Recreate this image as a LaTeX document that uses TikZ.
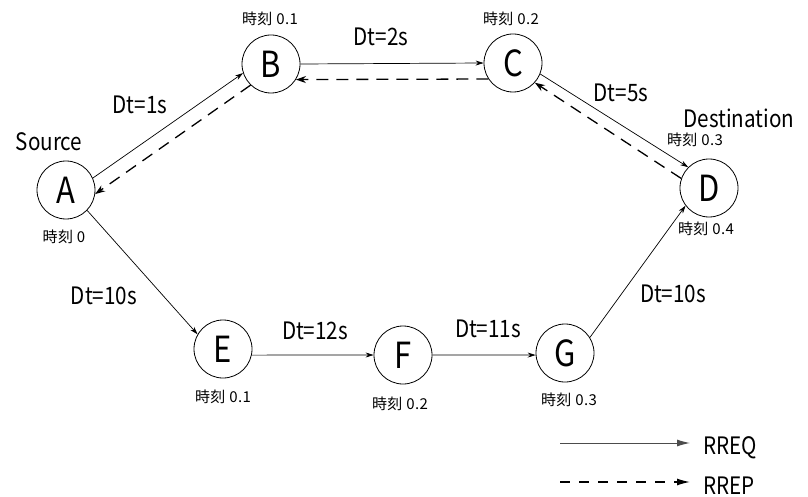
\documentclass[tikz,border=0pt]{standalone}
\usepackage{fontspec}
\setmainfont{Noto Sans CJK JP}[FakeStretch=0.86]
\newfontfamily\tmfont{Noto Sans CJK JP}[LetterSpace=3]
\usetikzlibrary{arrows.meta}
\begin{document}
\begin{tikzpicture}[x=1pt,y=-1pt,
  nd/.style={circle,draw,line width=0.8pt,minimum size=58pt,inner sep=0pt,font=\fontsize{36}{36}\selectfont},
  lbl/.style={font=\fontsize{24}{24}\selectfont,inner sep=0pt},
  tm/.style={font=\tmfont\fontsize{15}{15}\selectfont,inner sep=0pt},
  req/.style={-{Stealth[length=8pt,width=5pt]},line width=0.7pt},
  rep/.style={-{Stealth[length=10pt,width=7pt]},dash pattern=on 12pt off 8pt,line width=1.3pt},
  legreq/.style={-{Latex[length=13pt,width=7pt]},line width=1pt,draw=black!70,fill=black},
  legrep/.style={-{Latex[length=13pt,width=7pt]},dash pattern=on 10pt off 9pt,line width=1.3pt}]
\useasboundingbox (0,0) rectangle (808,497);
% nodes
\node[nd] (A) at (66,190) {A};
\node[nd] (B) at (271,64) {B};
\node[nd] (C) at (513,63) {C};
\node[nd] (D) at (709,188) {D};
\node[nd] (E) at (223,349) {E};
\node[nd] (F) at (403,355) {F};
\node[nd] (G) at (565,353) {G};
% time labels
\node[tm] (tA) at (64,237) {時刻 0};
\node[tm] (tB) at (270,19) {時刻 0.1};
\node[tm] (tC) at (511,19) {時刻 0.2};
\node[tm] (tD1) at (695,140) {時刻 0.3};
\node[tm] (tD2) at (706,229) {時刻 0.4};
\node[tm] (tE) at (223,397) {時刻 0.1};
\node[tm] (tF) at (400,404) {時刻 0.2};
\node[tm] (tG) at (569,400) {時刻 0.3};
% role labels
\node[lbl] (src) at (49,142) {Source};
\node[lbl] (dst) at (739,118) {Destination};
% delay labels
\node[lbl] (l1) at (140,105) {Dt=1s};
\node[lbl] (l2) at (381,37) {Dt=2s};
\node[lbl] (l5) at (621,93) {Dt=5s};
\node[lbl] (l10a) at (104,296) {Dt=10s};
\node[lbl] (l12) at (315,331) {Dt=12s};
\node[lbl] (l11) at (488,329) {Dt=11s};
\node[lbl] (l10b) at (673,294) {Dt=10s};
% RREQ
\draw[req] (A.24) -- (B.198);
\draw[req] (B.0) -- (C.180);
\draw[req] (C.-22) -- (D.135);
\draw[req] (A.-44) -- (E.150);
\draw[req] (E.-12) -- (F.180);
\draw[req] (F.0) -- (G.184);
\draw[req] (G.32) -- (D.217);
% RREP
\draw[rep] (D.161) -- (C.-42);
\draw[rep] (C.213) -- (B.-32);
\draw[rep] (B.226) -- (A.-8);
% legend
\coordinate (q1) at (560,443);
\coordinate (q2) at (690,443);
\coordinate (p1) at (560,482);
\coordinate (p2) at (690,482);
\draw[legreq] (q1) -- (q2);
\draw[legrep] (p1) -- (p2);
\node[lbl,anchor=west] (rreq) at (703,448) {RREQ};
\node[lbl,anchor=west] (rrep) at (703,486) {RREP};
\end{tikzpicture}
\end{document}
